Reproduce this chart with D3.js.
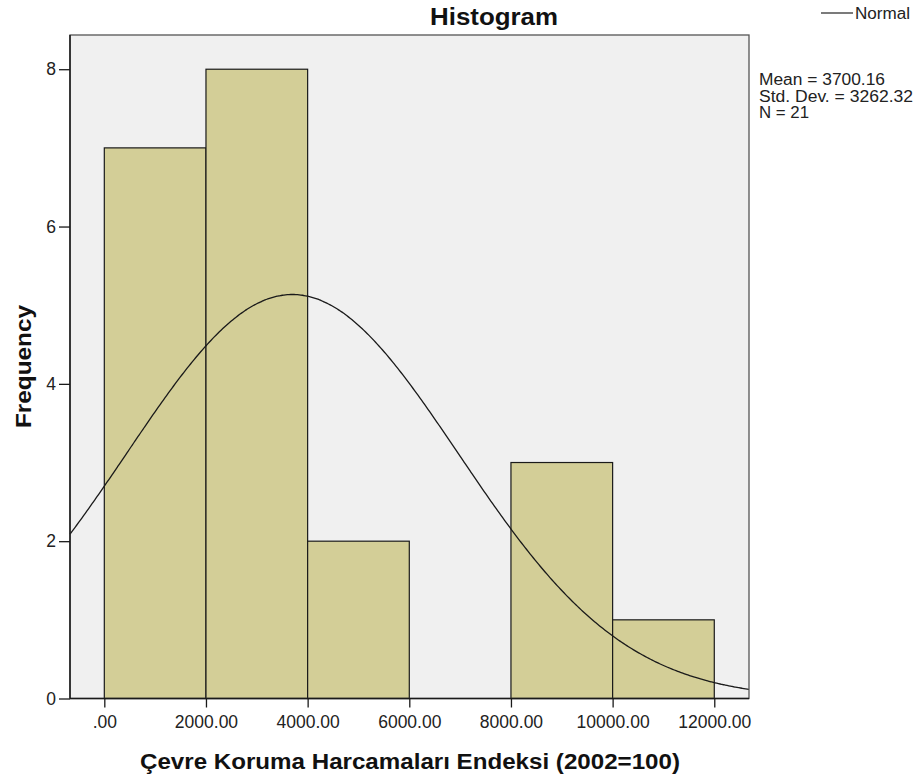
<!DOCTYPE html>
<html>
<head>
<meta charset="utf-8">
<script src="https://cdn.jsdelivr.net/npm/d3@7"></script>
<style>
body{margin:0;background:#fff;}
svg{display:block;font-family:"Liberation Sans",Arial,sans-serif;}
</style>
</head>
<body>
<svg id="chart" width="920" height="780"></svg>
<script>
const binStarts = [0, 2000, 4000, 6000, 8000, 10000];
const binEnds   = [2000, 4000, 6000, 8000, 10000, 12000];
const counts    = [7, 8, 2, 0, 3, 1];
const xTicks = [0, 2000, 4000, 6000, 8000, 10000, 12000];
const xTickLabels = [".00", "2000.00", "4000.00", "6000.00", "8000.00", "10000.00", "12000.00"];
const yTicks = [0, 2, 4, 6, 8];
const statsLines = ["Mean = 3700.16", "Std. Dev. = 3262.32", "N = 21"];
const statsWidths = [126, 154, 50];
const mean = 3700.16, sd = 3262.32, n = 21, binWidth = 2000;

const svg = d3.select("#chart");
const L = 70, R = 749, T = 35, B = 698.5;
const x = d3.scaleLinear().domain([-675, 12683]).range([L, R]);
const y = d3.scaleLinear().domain([0, 8.435]).range([B, T]);

svg.append("rect").attr("x", L).attr("y", T).attr("width", R - L).attr("height", B - T)
  .attr("fill", "#f0f0f0");

const bars = binStarts.map((s, i) => ({s, e: binEnds[i], c: counts[i]})).filter(d => d.c > 0);
svg.append("g").selectAll("rect").data(bars).join("rect")
  .attr("x", d => x(d.s)).attr("width", d => x(d.e) - x(d.s))
  .attr("y", d => y(d.c)).attr("height", d => y(0) - y(d.c))
  .attr("fill", "#d3ce97").attr("stroke", "#1a1a1a").attr("stroke-width", 1.2);

// normal curve from the stated mean / std. dev.
const pts = d3.range(0, 401).map(i => {
  const xv = -675 + (12683 + 675) * i / 400;
  const z = (xv - mean) / sd;
  return [xv, n * binWidth * Math.exp(-0.5 * z * z) / (sd * Math.sqrt(2 * Math.PI))];
});
svg.append("path").datum(pts)
  .attr("d", d3.line().x(d => x(d[0])).y(d => y(d[1])).curve(d3.curveBasis))
  .attr("fill", "none").attr("stroke", "#1a1a1a").attr("stroke-width", 1.3);

// plot frame
svg.append("rect").attr("x", L).attr("y", T).attr("width", R - L).attr("height", B - T)
  .attr("fill", "none").attr("stroke", "#555").attr("stroke-width", 1.3);

// axes
const xAxis = d3.axisBottom(x).tickValues(xTicks).tickFormat((d, i) => xTickLabels[i])
  .tickSize(9).tickPadding(8);
const gx = svg.append("g").attr("transform", `translate(0,${B})`).call(xAxis);
gx.select(".domain").attr("stroke", "#1a1a1a").attr("stroke-width", 1.5).attr("d", `M${L},0H${R}`);
gx.selectAll(".tick line").attr("stroke", "#1a1a1a").attr("stroke-width", 1.3);
gx.selectAll(".tick text").attr("font-size", 17.5).attr("fill", "#222")
  .attr("font-family", "'Liberation Sans',Arial,sans-serif");

const yAxis = d3.axisLeft(y).tickValues(yTicks).tickFormat(d3.format("d")).tickSize(11).tickPadding(3);
const gy = svg.append("g").attr("transform", `translate(${L},0)`).call(yAxis);
gy.select(".domain").attr("stroke", "#1a1a1a").attr("stroke-width", 1.5).attr("d", `M0,${T}V${B}`);
gy.selectAll(".tick text").attr("font-size", 17.5).attr("fill", "#222")
  .attr("font-family", "'Liberation Sans',Arial,sans-serif");
gy.selectAll(".tick line").attr("stroke", "#1a1a1a").attr("stroke-width", 1.3);

// title
svg.append("text").attr("x", 430).attr("y", 25)
  .attr("font-size", 23).attr("font-weight", "bold").attr("fill", "#111")
  .attr("textLength", 128).attr("lengthAdjust", "spacingAndGlyphs").text("Histogram");

// axis titles
svg.append("text").attr("x", 140).attr("y", 769)
  .attr("font-size", 22).attr("font-weight", "bold").attr("fill", "#111")
  .attr("textLength", 540).attr("lengthAdjust", "spacingAndGlyphs")
  .text("Çevre Koruma Harcamaları Endeksi (2002=100)");
svg.append("text").attr("transform", "translate(31,428) rotate(-90)")
  .attr("font-size", 22).attr("font-weight", "bold").attr("fill", "#111")
  .attr("textLength", 123).attr("lengthAdjust", "spacingAndGlyphs").text("Frequency");

// legend
svg.append("line").attr("x1", 821).attr("x2", 853).attr("y1", 13).attr("y2", 13)
  .attr("stroke", "#333").attr("stroke-width", 1.3);
svg.append("text").attr("x", 855).attr("y", 19).attr("font-size", 16).attr("fill", "#222")
  .attr("textLength", 55).attr("lengthAdjust", "spacingAndGlyphs").text("Normal");

svg.append("g").selectAll("text").data(statsLines).join("text")
  .attr("x", 759).attr("y", (d, i) => 85 + i * 16.5)
  .attr("font-size", 16).attr("fill", "#222")
  .attr("textLength", (d, i) => statsWidths[i]).attr("lengthAdjust", "spacingAndGlyphs")
  .text(d => d);
</script>
</body>
</html>
